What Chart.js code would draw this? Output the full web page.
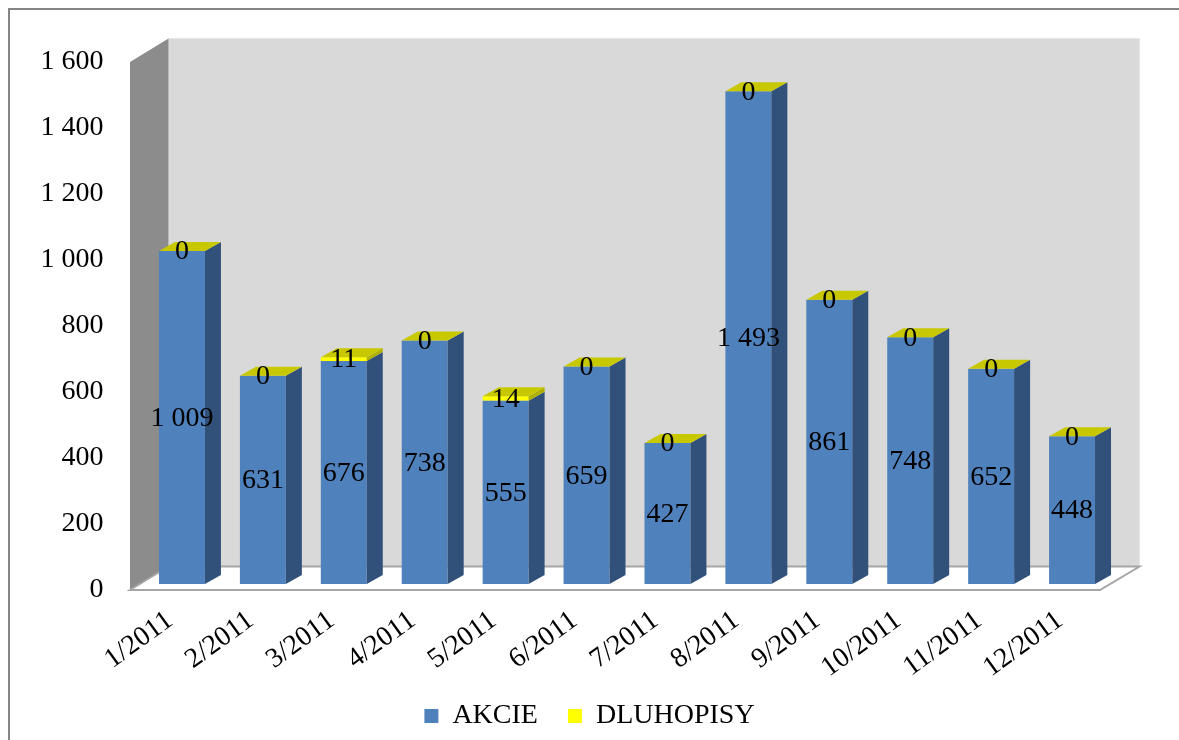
<!DOCTYPE html>
<html>
<head>
<meta charset="utf-8">
<script src="https://cdn.jsdelivr.net/npm/chart.js@4/dist/chart.umd.min.js"></script>
<style>
  body { margin: 0; background: #fff; }
  canvas { display: block; }
</style>
</head>
<body>
<canvas id="chart" width="1179" height="740"></canvas>
<script>
// data
const months = ['1/2011', '2/2011', '3/2011', '4/2011', '5/2011', '6/2011',
                '7/2011', '8/2011', '9/2011', '10/2011', '11/2011', '12/2011'];
const akcie = [1009, 631, 676, 738, 555, 659, 427, 1493, 861, 748, 652, 448];
const dluhopisy = [0, 0, 11, 0, 14, 0, 0, 0, 0, 0, 0, 0];
const yTicks = [0, 200, 400, 600, 800, 1000, 1200, 1400, 1600];

const blue = '#4f81bd';
const blueSide = '#31507a';
const yellow = '#ffff00';
const yellowSide = '#b0b000';
const yellowTop = '#c8c800';
const serif = 'Liberation Serif, Times New Roman, serif';
const fontSize = 28;

// fake 3D depth of one bar
const barDx = 16, barDy = -9;

function spaced(n) {
    return String(n).replace(/\B(?=(\d{3})+(?!\d))/g, ' ');
}

// frame + walls + floor behind the bars
const wallsPlugin = {
    id: 'walls',
    beforeDraw(chart) {
        const ctx = chart.ctx;
        ctx.save();
        ctx.fillStyle = '#fff';
        ctx.fillRect(0, 0, chart.width, chart.height);
        ctx.strokeStyle = '#858585';
        ctx.lineWidth = 2;
        ctx.beginPath();
        ctx.moveTo(9, chart.height);
        ctx.lineTo(9, 9);
        ctx.lineTo(chart.width, 9);
        ctx.stroke();
        ctx.restore();
    },
    beforeDatasetsDraw(chart) {
        const ctx = chart.ctx;
        const a = chart.chartArea;
        const fx = -11.5, fy = 6;     // front plane offset
        const bx = 27, by = -17.5;    // back plane offset
        ctx.save();
        // back wall
        ctx.fillStyle = '#d9d9d9';
        ctx.fillRect(a.left + bx, a.top + by, a.right - a.left, a.bottom - a.top);
        ctx.strokeStyle = '#e6e6e6';
        ctx.lineWidth = 1;
        ctx.strokeRect(a.left + bx, a.top + by, a.right - a.left, a.bottom - a.top);
        // side wall
        ctx.fillStyle = '#8c8c8c';
        ctx.beginPath();
        ctx.moveTo(a.left + fx, a.top + fy);
        ctx.lineTo(a.left + bx, a.top + by);
        ctx.lineTo(a.left + bx, a.bottom + by);
        ctx.lineTo(a.left + fx, a.bottom + fy);
        ctx.closePath();
        ctx.fill();
        // floor
        ctx.fillStyle = '#fff';
        ctx.strokeStyle = '#a6a6a6';
        ctx.lineWidth = 2;
        ctx.beginPath();
        ctx.moveTo(a.left + fx, a.bottom + fy);
        ctx.lineTo(a.right + fx - 1, a.bottom + fy);
        ctx.lineTo(a.right + bx, a.bottom + by);
        ctx.lineTo(a.left + bx, a.bottom + by);
        ctx.closePath();
        ctx.fill();
        ctx.stroke();
        ctx.restore();
    }
};

// side and top faces of the bars, then the value labels
const depthPlugin = {
    id: 'depth',
    afterDatasetsDraw(chart) {
        const ctx = chart.ctx;
        const sides = [blueSide, yellowSide];
        const last = chart.data.datasets.length - 1;
        ctx.save();
        chart.data.datasets.forEach((ds, i) => {
            chart.getDatasetMeta(i).data.forEach(bar => {
                const p = bar.getProps(['x', 'y', 'base', 'width'], true);
                const r = p.x + p.width / 2, l = p.x - p.width / 2;
                ctx.fillStyle = sides[i];
                ctx.beginPath();
                ctx.moveTo(r, p.y);
                ctx.lineTo(r + barDx, p.y + barDy);
                ctx.lineTo(r + barDx, p.base + barDy);
                ctx.lineTo(r, p.base);
                ctx.closePath();
                ctx.fill();
                if (i === last) {
                    ctx.fillStyle = yellowTop;
                    ctx.beginPath();
                    ctx.moveTo(l, p.y);
                    ctx.lineTo(l + barDx, p.y + barDy);
                    ctx.lineTo(r + barDx, p.y + barDy);
                    ctx.lineTo(r, p.y);
                    ctx.closePath();
                    ctx.fill();
                }
            });
        });
        ctx.fillStyle = '#000';
        ctx.font = fontSize + 'px ' + serif;
        ctx.textAlign = 'center';
        ctx.textBaseline = 'middle';
        chart.data.datasets.forEach((ds, i) => {
            chart.getDatasetMeta(i).data.forEach((bar, j) => {
                const p = bar.getProps(['x', 'y', 'base'], true);
                ctx.fillText(spaced(ds.data[j]), p.x, (p.y + p.base) / 2 + 1);
            });
        });
        ctx.restore();
    }
};

new Chart(document.getElementById('chart'), {
    type: 'bar',
    data: {
        labels: months,
        datasets: [
            { label: 'AKCIE', data: akcie, backgroundColor: blue,
              barPercentage: 0.71, categoryPercentage: 0.8 },
            { label: 'DLUHOPISY', data: dluhopisy, backgroundColor: yellow,
              barPercentage: 0.71, categoryPercentage: 0.8 }
        ]
    },
    options: {
        responsive: false,
        animation: false,
        layout: { padding: { top: 56, right: 0, left: 0, bottom: 0 } },
        scales: {
            x: {
                stacked: true,
                grid: { display: false },
                border: { display: false },
                ticks: {
                    color: '#000',
                    font: { family: serif, size: fontSize },
                    minRotation: 36,
                    maxRotation: 36,
                    padding: 12,
                    labelOffset: -12
                },
                afterFit(scale) {
                    scale.height = 88;
                    // let the rotated labels run past the axis box, over the legend gap
                    scale._computeLabelArea = () => null;
                }
            },
            y: {
                stacked: true,
                min: yTicks[0],
                max: yTicks[yTicks.length - 1],
                grid: { display: false },
                border: { display: false },
                afterBuildTicks(scale) {
                    scale.ticks = yTicks.map(v => ({ value: v }));
                },
                ticks: {
                    color: '#000',
                    font: { family: serif, size: fontSize },
                    padding: 30,
                    labelOffset: 6,
                    callback: v => spaced(v)
                },
                afterFit(scale) { scale.width = 141.5; }
            },
            // empty right-hand strip so the plot ends where the reference does,
            // while the legend stays centred on the whole canvas
            gap: {
                position: 'right',
                grid: { display: false },
                border: { display: false },
                ticks: { display: false },
                afterFit(scale) { scale.width = 66.5; }
            }
        },
        plugins: {
            legend: {
                position: 'bottom',
                labels: {
                    color: '#000',
                    font: { family: serif, size: fontSize },
                    boxWidth: 14,
                    boxHeight: 14,
                    padding: 30
                }
            },
            tooltip: { enabled: false }
        }
    },
    plugins: [wallsPlugin, depthPlugin]
});
</script>
</body>
</html>
